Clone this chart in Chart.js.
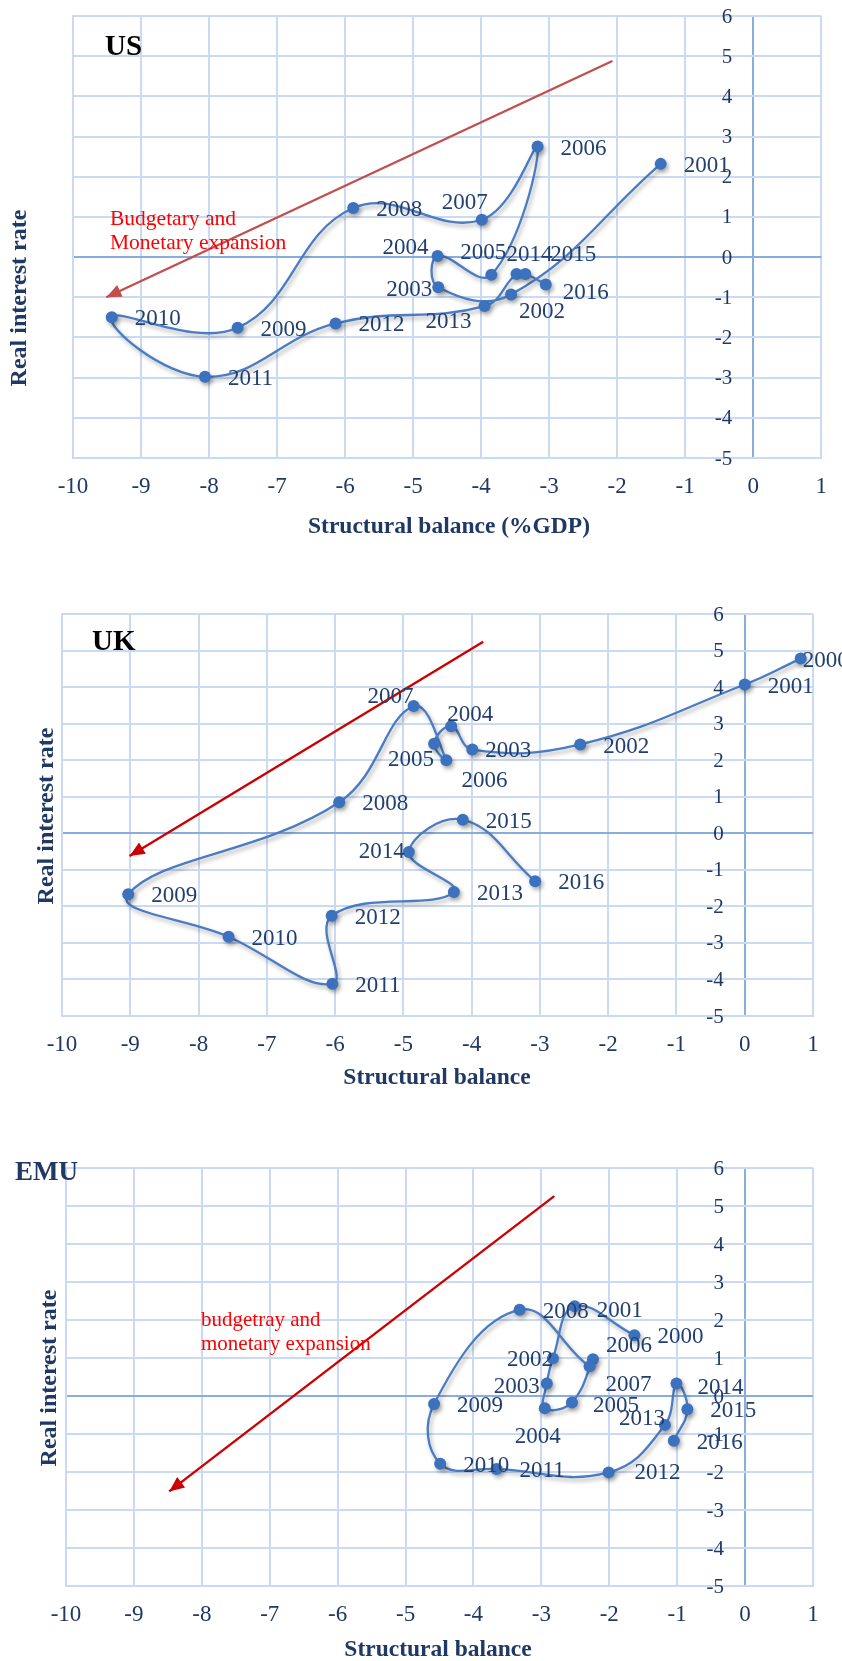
<!DOCTYPE html>
<html><head><meta charset="utf-8">
<script src="https://cdn.jsdelivr.net/npm/chart.js@4.4.1/dist/chart.umd.min.js"></script>
<style>
html,body{margin:0;padding:0;background:#fff;}
#wrap{position:relative;width:842px;height:1661px;overflow:hidden;background:#fff;}
canvas{position:absolute;left:0;}
</style></head><body>
<div id="wrap">
<canvas id="us" width="842" height="560" style="top:0px"></canvas>
<canvas id="uk" width="842" height="560" style="top:560px"></canvas>
<canvas id="emu" width="842" height="541" style="top:1120px"></canvas>
</div>
<script>
// ---------- DATA ----------
const xTicks = [-10, -9, -8, -7, -6, -5, -4, -3, -2, -1, 0, 1];
const yTicks = [-5, -4, -3, -2, -1, 0, 1, 2, 3, 4, 5, 6];

const usYears   = ['2001','2002','2003','2004','2005','2006','2007','2008','2009','2010','2011','2012','2013','2014','2015','2016'];
const usBalance = [-1.36,-3.56,-4.63,-4.64,-3.85,-3.17,-3.99,-5.88,-7.58,-9.43,-8.06,-6.14,-3.95,-3.48,-3.35,-3.05];
const usRate    = [ 2.32,-0.93,-0.75, 0.03,-0.44, 2.75, 0.93, 1.22,-1.76,-1.50,-2.98,-1.65,-1.22,-0.42,-0.42,-0.68];
const usArrowX  = [-2.07, -9.51];
const usArrowY  = [ 4.88, -1.00];

const ukYears   = ['2000','2001','2002','2003','2004','2005','2006','2007','2008','2009','2010','2011','2012','2013','2014','2015','2016'];
const ukBalance = [ 0.82, 0.00,-2.41,-3.99,-4.30,-4.55,-4.37,-4.85,-5.94,-9.03,-7.56,-6.04,-6.05,-4.26,-4.92,-4.13,-3.07];
const ukRate    = [ 4.78, 4.07, 2.43, 2.29, 2.93, 2.45, 2.00, 3.48, 0.85,-1.67,-2.83,-4.12,-2.26,-1.61,-0.51, 0.37,-1.31];
const ukArrowX  = [-3.83, -9.01];
const ukArrowY  = [ 5.24, -0.62];

const emuYears   = ['2000','2001','2002','2003','2004','2005','2006','2007','2008','2009','2010','2011','2012','2013','2014','2015','2016'];
const emuBalance = [-1.63,-2.51,-2.83,-2.92,-2.95,-2.55,-2.24,-2.29,-3.32,-4.58,-4.49,-3.66,-2.01,-1.18,-1.01,-0.85,-1.05];
const emuRate    = [ 1.60, 2.36, 0.99, 0.33,-0.32,-0.17, 0.97, 0.78, 2.27,-0.21,-1.78,-1.92,-2.01,-0.76, 0.33,-0.35,-1.18];
const emuArrowX  = [-2.81, -8.48];
const emuArrowY  = [ 5.26, -2.51];

// ---------- STYLE ----------
const NAVY = '#1F3864';
const GRID = '#C9DAF2';
const ZERO = '#8AACDF';
const SERIF = '"Liberation Serif", "Times New Roman", serif';

function pts(xs, ys) { return xs.map((x, i) => ({x: x, y: ys[i]})); }

const decor = {
  id: 'decor',
  beforeDatasetDraw(chart, args) {
    if (args.index === 0) {
      const ctx = chart.ctx;
      ctx.save();
      ctx.shadowColor = 'rgba(0,0,0,0.32)';
      ctx.shadowBlur = 4;
      ctx.shadowOffsetX = 2;
      ctx.shadowOffsetY = 3;
    }
  },
  afterDatasetDraw(chart, args) {
    if (args.index === 0) chart.ctx.restore();
  },
  afterDatasetsDraw(chart, args, o) {
    const ctx = chart.ctx;
    const xs = chart.scales.x, ys = chart.scales.y;
    // arrow head
    const am = chart.getDatasetMeta(1);
    const a0 = am.data[0], a1 = am.data[1];
    const ang = Math.atan2(a1.y - a0.y, a1.x - a0.x);
    const L = 15, W = 6.5;
    ctx.save();
    ctx.fillStyle = o.arrowColor;
    ctx.beginPath();
    ctx.moveTo(a1.x, a1.y);
    ctx.lineTo(a1.x - L * Math.cos(ang) + W * Math.sin(ang), a1.y - L * Math.sin(ang) - W * Math.cos(ang));
    ctx.lineTo(a1.x - L * Math.cos(ang) - W * Math.sin(ang), a1.y - L * Math.sin(ang) + W * Math.cos(ang));
    ctx.closePath();
    ctx.fill();
    ctx.restore();

    ctx.save();
    // y tick labels next to the x=0 axis
    const x0 = xs.getPixelForValue(0);
    ctx.font = '21px ' + SERIF;
    ctx.fillStyle = NAVY;
    ctx.textAlign = 'right';
    ctx.textBaseline = 'middle';
    ys.ticks.forEach(t => ctx.fillText(String(t.value), x0 - 21, ys.getPixelForValue(t.value) + 1));

    // data labels
    const meta = chart.getDatasetMeta(0);
    ctx.font = '23px ' + SERIF;
    ctx.fillStyle = '#22406F';
    meta.data.forEach((p, i) => {
      const yr = o.years[i];
      const off = o.offsets[yr] || [23, 2, 'left'];
      ctx.textAlign = off[2];
      ctx.fillText(yr, p.x + off[0], p.y + off[1]);
    });

    // title
    ctx.textAlign = 'left';
    ctx.textBaseline = 'alphabetic';
    ctx.font = 'bold ' + o.title.size + 'px ' + SERIF;
    ctx.fillStyle = o.title.color;
    ctx.fillText(o.title.text, o.title.x, o.title.y);

    // annotation
    if (o.note) {
      ctx.font = o.note.size + 'px ' + SERIF;
      ctx.fillStyle = '#FF0000';
      ctx.textBaseline = 'middle';
      o.note.lines.forEach((ln, k) => ctx.fillText(ln, o.note.x, o.note.y + k * 24));
    }

    // axis titles
    ctx.fillStyle = NAVY;
    ctx.font = 'bold 23.5px ' + SERIF;
    ctx.textAlign = 'center';
    ctx.textBaseline = 'middle';
    ctx.fillText(o.xTitle.text, o.xTitle.x, o.xTitle.y);
    ctx.save();
    ctx.translate(o.yTitle.x, o.yTitle.y);
    ctx.rotate(-Math.PI / 2);
    ctx.font = 'bold 24px ' + SERIF;
    ctx.fillText('Real interest rate', 0, 0);
    ctx.restore();
    ctx.restore();
  }
};

function makeChart(id, years, bx, ry, ax, ay, arrowColor, padding, decorOpts) {
  decorOpts.years = years;
  decorOpts.arrowColor = arrowColor;
  return new Chart(document.getElementById(id), {
    type: 'scatter',
    data: {
      datasets: [
        {
          data: pts(bx, ry),
          showLine: true,
          tension: 0.42,
          borderColor: '#4A7CC3',
          borderWidth: 2.3,
          pointRadius: 6,
          pointHoverRadius: 6,
          pointBackgroundColor: '#3C71BE',
          pointBorderColor: '#3C71BE',
          pointBorderWidth: 0
        },
        {
          data: pts(ax, ay),
          showLine: true,
          tension: 0,
          borderColor: arrowColor,
          borderWidth: 2.4,
          pointRadius: 0
        }
      ]
    },
    options: {
      responsive: false,
      animation: false,
      events: [],
      layout: { padding: padding },
      plugins: { legend: { display: false }, tooltip: { enabled: false }, decor: decorOpts },
      scales: {
        x: {
          type: 'linear', min: -10, max: 1,
          afterBuildTicks: s => { s.ticks = xTicks.map(v => ({value: v})); },
          afterFit: s => { s.height = 60; },
          ticks: { font: { family: SERIF, size: 23 }, color: NAVY, padding: 15, autoSkip: false, maxRotation: 0 },
          grid: { color: c => (c.tick && c.tick.value === 0 ? ZERO : GRID), lineWidth: 2, drawTicks: false },
          border: { display: true, color: GRID, width: 2 }
        },
        y: {
          type: 'linear', min: -5, max: 6,
          afterBuildTicks: s => { s.ticks = yTicks.map(v => ({value: v})); },
          afterFit: s => { s.width = 0; },
          ticks: { display: false },
          grid: { color: c => (c.tick && c.tick.value === 0 ? ZERO : GRID), lineWidth: 2, drawTicks: false },
          border: { display: true, color: GRID, width: 2 }
        }
      }
    },
    plugins: [decor]
  });
}

makeChart('us', usYears, usBalance, usRate, usArrowX, usArrowY, '#C0504D',
  { left: 73, right: 17, top: 16, bottom: 42 },
  {
    offsets: {
      '2007': [-17, -17, 'center'], '2004': [-9, -8, 'right'], '2005': [-8, -22, 'center'],
      '2014': [13, -19, 'center'], '2015': [25, -19, 'left'], '2016': [17, 9, 'left'],
      '2003': [-6, 3, 'right'], '2002': [8, 17, 'left'], '2013': [-13, 16, 'right']
    },
    title: { text: 'US', x: 105, y: 55, size: 29, color: '#000' },
    note: { lines: ['Budgetary and', 'Monetary expansion'], x: 110, y: 219, size: 21.5 },
    xTitle: { text: 'Structural balance (%GDP)', x: 449, y: 527 },
    yTitle: { x: 20, y: 298 }
  });

makeChart('uk', ukYears, ukBalance, ukRate, ukArrowX, ukArrowY, '#CC0000',
  { left: 62, right: 29, top: 54, bottom: 44 },
  {
    offsets: {
      '2000': [2, 2, 'left'], '2003': [13, 1, 'left'], '2004': [-4, -11, 'left'],
      '2005': [0, 16, 'right'], '2006': [15, 21, 'left'], '2007': [0, -9, 'right'],
      '2014': [-4, 0, 'right']
    },
    title: { text: 'UK', x: 92, y: 90, size: 29, color: '#000' },
    note: null,
    xTitle: { text: 'Structural balance', x: 437, y: 518 },
    yTitle: { x: 47, y: 256 }
  });

makeChart('emu', emuYears, emuBalance, emuRate, emuArrowX, emuArrowY, '#CC0000',
  { left: 66, right: 29, top: 48, bottom: 15 },
  {
    offsets: {
      '2001': [22, 5, 'left'], '2002': [0, 2, 'right'], '2006': [13, -13, 'left'],
      '2007': [16, 19, 'left'], '2003': [-7, 3, 'right'], '2014': [21, 4, 'left'],
      '2004': [-7, 29, 'center'], '2005': [21, 3, 'left'], '2013': [0, -6, 'right'],
      '2012': [26, 1, 'left']
    },
    title: { text: 'EMU', x: 15, y: 60, size: 27, color: NAVY },
    note: { lines: ['budgetray and', 'monetary expansion'], x: 201, y: 200, size: 21 },
    xTitle: { text: 'Structural balance', x: 438, y: 530 },
    yTitle: { x: 50, y: 258 }
  });
</script>
</body></html>
